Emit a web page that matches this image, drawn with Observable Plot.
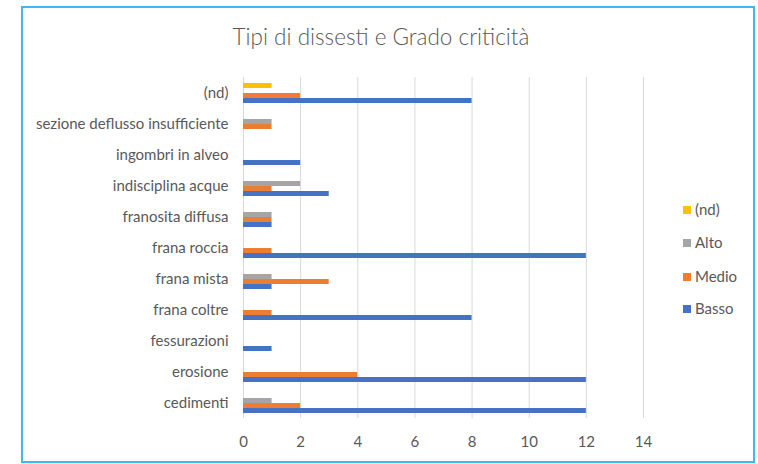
<!DOCTYPE html>
<html>
<head>
<meta charset="utf-8">
<script src="https://cdn.jsdelivr.net/npm/d3@7"></script>
<script src="https://cdn.jsdelivr.net/npm/@observablehq/plot@0.6"></script>
<style>
  html, body { margin: 0; padding: 0; background: #fff; }
  #wrap { position: relative; width: 758px; height: 464px; overflow: hidden; font-family: Lato, "Open Sans", sans-serif; color: #595959; }
  #frame { position: absolute; left: 21px; top: 6px; width: 734px; height: 457px; border: 2px solid #3fb7f2; box-sizing: border-box; pointer-events: none; }
  #title { position: absolute; left: 0; top: 22px; width: 762px; text-align: center; font-size: 22.5px; font-weight: 300; line-height: 30px; color: #595959; }
  #chart { position: absolute; left: 0; top: 0; }
  #legend { position: absolute; left: 683px; top: 0; font-size: 15px; color: #595959; }
  .li { position: absolute; left: 0; white-space: nowrap; height: 18px; line-height: 18px; }
  .sw { display: inline-block; width: 8px; height: 8px; margin-right: 4px; vertical-align: 1px; }
</style>
</head>
<body>
<div id="wrap">
  <div id="chart"></div>
  <div id="title">Tipi di dissesti e Grado criticità</div>
  <div id="legend"></div>
  <div id="frame"></div>
</div>
<script>
const categories = ["(nd)", "sezione deflusso insufficiente", "ingombri in alveo", "indisciplina acque", "franosita diffusa", "frana roccia", "frana mista", "frana coltre", "fessurazioni", "erosione", "cedimenti"];
const basso = [8, 0, 2, 3, 1, 12, 1, 8, 1, 12, 12];
const medio = [2, 1, 0, 1, 1, 1, 3, 1, 0, 4, 2];
const alto  = [0, 1, 0, 2, 1, 0, 1, 0, 0, 0, 1];
const nd    = [1, 0, 0, 0, 0, 0, 0, 0, 0, 0, 0];
const series = ["(nd)", "Alto", "Medio", "Basso"];
const colors = ["#FFC000", "#A5A5A5", "#ED7D31", "#4472C4"];
const xTicks = [0, 2, 4, 6, 8, 10, 12, 14];

const seriesValues = {"(nd)": nd, "Alto": alto, "Medio": medio, "Basso": basso};
const data = categories.flatMap((c, i) => series.map(s => ({cat: c, serie: s, value: seriesValues[s][i]}))).filter(d => d.value > 0);

const chart = Plot.plot({
  width: 758,
  height: 464,
  marginLeft: 243,
  marginRight: 115,
  marginTop: 74,
  marginBottom: 43,
  style: {fontFamily: "Lato, 'Open Sans', sans-serif", fontSize: "15px", color: "#595959", background: "transparent"},
  x: {domain: [0, 14]},
  fy: {domain: categories, padding: 0},
  y: {domain: series, paddingInner: 0.05, paddingOuter: 0.8, axis: null},
  color: {domain: series, range: colors},
  marks: [
    Plot.gridX(xTicks, {stroke: "#d9d9d9", strokeOpacity: 1, strokeWidth: 1}),
    Plot.barX(data, {x: "value", y: "serie", fy: "cat", fill: "serie"}),
    Plot.axisX({ticks: xTicks, tickSize: 0, tickPadding: 18, fontSize: 15, fill: "#595959", label: null}),
    Plot.axisFy({anchor: "left", tickSize: 0, tickPadding: 15, fontSize: 15, fill: "#595959", label: null})
  ]
});
document.getElementById("chart").appendChild(chart);

const legend = document.getElementById("legend");
const legendY = {"(nd)": 200, "Alto": 233, "Medio": 267, "Basso": 299};
series.forEach((s, i) => {
  const el = document.createElement("div");
  el.className = "li";
  el.style.top = legendY[s] + "px";
  el.innerHTML = `<span class="sw" style="background:${colors[i]}"></span>${s}`;
  legend.appendChild(el);
});
</script>
</body>
</html>
